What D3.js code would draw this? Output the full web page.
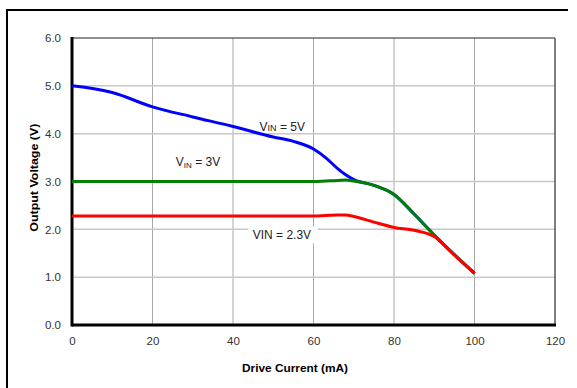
<!DOCTYPE html>
<html>
<head>
<meta charset="utf-8">
<script src="https://cdn.jsdelivr.net/npm/d3@7"></script>
<style>
  html, body { margin: 0; padding: 0; background: #fff; overflow: hidden; }
  svg { display: block; }
  text { font-family: "Liberation Sans", Arial, sans-serif; }
</style>
</head>
<body>
<svg class="chart"></svg>
<script>
const current = [0, 10, 20, 30, 40, 50, 55, 60, 63, 66, 68, 70, 75, 80, 85, 90, 95, 100];
const vin5 = [5.0, 4.86, 4.56, 4.35, 4.15, 3.93, 3.84, 3.68, 3.5, 3.27, 3.14, 3.04, 2.92, 2.73, 2.32, 1.88, 1.47, 1.08];
const vin3 = [3.0, 3.0, 3.0, 3.0, 3.0, 3.0, 3.0, 3.0, 3.01, 3.02, 3.03, 3.01, 2.92, 2.73, 2.32, 1.88, 1.47, 1.08];
const vin23 = [2.28, 2.28, 2.28, 2.28, 2.28, 2.28, 2.28, 2.28, 2.29, 2.3, 2.3, 2.27, 2.15, 2.04, 1.98, 1.85, 1.46, 1.08];
const xTicks = [0, 20, 40, 60, 80, 100, 120];
const yTicks = [0, 1, 2, 3, 4, 5, 6];

const svg = d3.select('.chart')
	.attr('width', 577)
	.attr('height', 388);

const margin = { top: 38, right: 22, bottom: 63, left: 72 };
const innerWidth = 577 - margin.left - margin.right;
const innerHeight = 388 - margin.top - margin.bottom;

// outer frame (only top and left edges show)
svg.append('path')
	.attr('d', 'M7,388 V10 H568')
	.attr('fill', 'none')
	.attr('stroke', '#000')
	.attr('stroke-width', 2);

const g = svg.append('g')
	.attr('transform', `translate(${margin.left}, ${margin.top})`);

const xScale = d3.scaleLinear().domain([0, 120]).range([0, innerWidth]);
const yScale = d3.scaleLinear().domain([0, 6]).range([innerHeight, 0]);

// grid
g.append('g').selectAll('line')
	.data(xTicks.slice(1, -1))
	.enter().append('line')
		.attr('x1', d => xScale(d)).attr('x2', d => xScale(d))
		.attr('y1', 0).attr('y2', innerHeight)
		.attr('stroke', '#a8a8a8');

g.append('g').selectAll('line')
	.data(yTicks.slice(1, -1))
	.enter().append('line')
		.attr('y1', d => yScale(d)).attr('y2', d => yScale(d))
		.attr('x1', 0).attr('x2', innerWidth)
		.attr('stroke', '#c8c8c8')
		.attr('stroke-width', 1.5);

// plot frame: right + top thin, left + bottom thick
g.append('line').attr('x1', 0).attr('x2', innerWidth).attr('y1', 0).attr('y2', 0)
	.attr('stroke', '#222').attr('stroke-width', 1.2);
g.append('line').attr('x1', innerWidth).attr('x2', innerWidth).attr('y1', 0).attr('y2', innerHeight)
	.attr('stroke', '#555').attr('stroke-width', 1.5);

const xAxis = d3.axisBottom(xScale).tickValues(xTicks).tickSize(0).tickPadding(12);
const yAxis = d3.axisLeft(yScale).tickValues(yTicks).tickSize(0).tickPadding(11)
	.tickFormat(d3.format('.1f'));

const xAxisG = g.append('g').call(xAxis)
	.attr('transform', `translate(0, ${innerHeight})`);
const yAxisG = g.append('g').call(yAxis);

[xAxisG, yAxisG].forEach(a => {
	a.select('.domain').remove();
	a.selectAll('text')
		.attr('font-family', '"Liberation Sans", Arial, sans-serif')
		.attr('font-size', 11.5)
		.attr('fill', '#333');
});

g.append('line').attr('x1', 0).attr('x2', 0).attr('y1', -1).attr('y2', innerHeight + 1.5)
	.attr('stroke', '#000').attr('stroke-width', 3);
g.append('line').attr('x1', 0).attr('x2', innerWidth + 1).attr('y1', innerHeight).attr('y2', innerHeight)
	.attr('stroke', '#000').attr('stroke-width', 3);

// series
const line = d3.line()
	.x((d, i) => xScale(current[i]))
	.y(d => yScale(d))
	.curve(d3.curveMonotoneX);

const series = [
	{ values: vin5, color: '#0000ff' },
	{ values: vin3, color: '#008000' },
	{ values: vin23, color: '#ff0000' }
];

g.selectAll('path.series')
	.data(series)
	.enter().append('path')
		.attr('class', 'series')
		.attr('d', d => line(d.values))
		.attr('fill', 'none')
		.attr('stroke', d => d.color)
		.attr('stroke-width', 3);

// labels
const lbl5 = g.append('text')
	.attr('x', xScale(46.6)).attr('y', yScale(4.06))
	.attr('font-size', 12).attr('fill', '#222');
lbl5.append('tspan').text('V');
lbl5.append('tspan').attr('font-size', 9).text('IN');
lbl5.append('tspan').text(' = 5V');

const lbl3 = g.append('text')
	.attr('x', xScale(25.8)).attr('y', yScale(3.33))
	.attr('font-size', 12).attr('fill', '#222');
lbl3.append('tspan').text('V');
lbl3.append('tspan').attr('font-size', 8).attr('dy', 2).text('IN');
lbl3.append('tspan').attr('dy', -2).text(' = 3V');

g.append('rect')
	.attr('x', xScale(43.7)).attr('y', yScale(2.06))
	.attr('width', 70).attr('height', 17)
	.attr('fill', '#fff');
g.append('text')
	.attr('x', xScale(44.9)).attr('y', yScale(1.8))
	.attr('font-size', 12).attr('fill', '#222')
	.text('VIN = 2.3V');

// axis titles
g.append('text')
	.attr('x', xScale(55.4)).attr('y', innerHeight + 47)
	.attr('text-anchor', 'middle')
	.attr('font-size', 11).attr('font-weight', 'bold')
	.attr('textLength', 106).attr('lengthAdjust', 'spacingAndGlyphs')
	.text('Drive Current (mA)');

g.append('text')
	.attr('transform', `translate(${-34}, ${yScale(3.08)}) rotate(-90)`)
	.attr('text-anchor', 'middle')
	.attr('font-size', 11).attr('font-weight', 'bold')
	.attr('textLength', 108).attr('lengthAdjust', 'spacingAndGlyphs')
	.text('Output Voltage (V)');
</script>
</body>
</html>
